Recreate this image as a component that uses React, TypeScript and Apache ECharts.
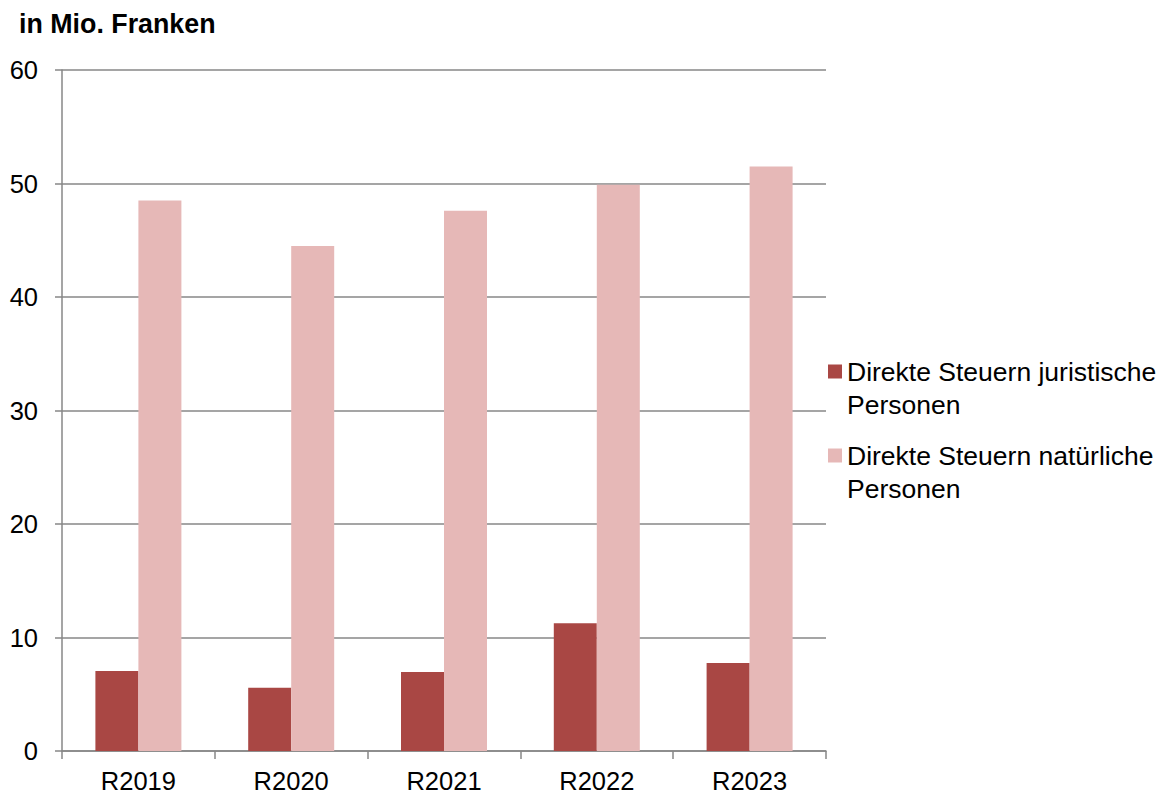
import React, { useEffect, useRef } from "react";
import * as echarts from "echarts";

// Rechnungsjahre
const years = ["R2019", "R2020", "R2021", "R2022", "R2023"];

// Direkte Steuern in Mio. Franken
const juristische = [7.04, 5.57, 6.95, 11.25, 7.75];
const natuerliche = [48.5, 44.5, 47.6, 49.9, 51.5];

const seriesNames = [
  "Direkte Steuern juristische Personen",
  "Direkte Steuern natürliche Personen",
];

const yTicks = { min: 0, max: 60, interval: 10 };

const FONT = "'Liberation Sans', Arial, sans-serif";
const GRID_COLOR = "#878787";

export default function App() {
  const ref = useRef<HTMLDivElement>(null);

  useEffect(() => {
    if (!ref.current) return;
    const chart = echarts.init(ref.current, null, { renderer: "svg" });
    chart.setOption({
      animation: false,
      backgroundColor: "#ffffff",
      textStyle: { fontFamily: FONT, color: "#000" },
      title: {
        text: "in Mio. Franken",
        left: 19,
        top: 10,
        padding: 0,
        textStyle: { fontFamily: FONT, fontSize: 26.8, fontWeight: "bold", color: "#000" },
      },
      grid: { left: 62, right: 334, top: 70, bottom: 43, containLabel: false },
      legend: {
        orient: "vertical",
        left: 828,
        top: 322,
        padding: 0,
        itemWidth: 14,
        itemHeight: 14,
        itemGap: -15,
        icon: "rect",
        selectedMode: false,
        data: seriesNames,
        // leading blank line keeps the swatch level with the first text line
        formatter: (name: string) => "\n" + name.replace(" Personen", "\nPersonen"),
        textStyle: {
          fontFamily: FONT,
          fontSize: 26.5,
          color: "#000",
          lineHeight: 33,
        },
      },
      xAxis: {
        type: "category",
        data: years,
        axisLine: { lineStyle: { color: GRID_COLOR, width: 1.5 } },
        axisTick: { show: true, length: 8, alignWithLabel: false, lineStyle: { color: GRID_COLOR, width: 1.5 } },
        axisLabel: { fontFamily: FONT, fontSize: 25.5, color: "#000", margin: 17 },
      },
      yAxis: {
        type: "value",
        min: yTicks.min,
        max: yTicks.max,
        interval: yTicks.interval,
        axisLine: { show: true, lineStyle: { color: GRID_COLOR, width: 1.5 } },
        axisTick: { show: true, length: 7, lineStyle: { color: GRID_COLOR, width: 1.5 } },
        axisLabel: { fontFamily: FONT, fontSize: 25.5, color: "#000", margin: 24 },
        splitLine: { show: true, lineStyle: { color: GRID_COLOR, width: 1.5 } },
      },
      series: [
        {
          name: seriesNames[0],
          type: "bar",
          data: juristische,
          barWidth: 43,
          barGap: "0%",
          itemStyle: { color: "#A94744" },
        },
        {
          name: seriesNames[1],
          type: "bar",
          data: natuerliche,
          barWidth: 43,
          barGap: "0%",
          itemStyle: { color: "#E6B8B7" },
        },
      ],
    });
    return () => chart.dispose();
  }, []);

  return (
    <div
      ref={ref}
      style={{ position: "fixed", left: 0, top: 0, width: 1160, height: 794, background: "#fff" }}
    />
  );
}
